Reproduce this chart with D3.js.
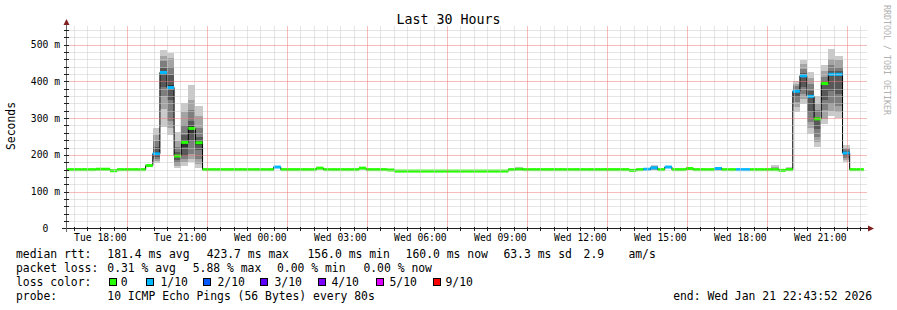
<!DOCTYPE html>
<html>
<head>
<meta charset="utf-8">
<script src="https://cdn.jsdelivr.net/npm/d3@7"></script>
<style>
    body { margin: 0; background: #fff; }
    svg text { font-family: "DejaVu Sans Mono", monospace; white-space: pre; }
</style>
</head>
<body>
<div id="chart"></div>
<script>
// time window of the graph
const startTime = new Date(2026, 0, 20, 16, 43, 52);
const endTime = new Date(2026, 0, 21, 22, 43, 52);
// consolidated 16 minute steps, first one starting here
const binStart = new Date(2026, 0, 20, 16, 30);
const binMinutes = 16;

// median rtt per step (ms)
const median = [
    160, 160, 160, 160, 160, 161, 161, 157, 160, 160,
    160, 160, 171, 203, 424, 383, 197, 234, 272, 233,
    160, 160, 160, 160, 160, 160, 160, 160, 160, 160,
    167, 160, 160, 160, 160, 160, 164, 160, 160, 160,
    160, 160, 164, 160, 160, 160, 159, 156, 156, 156,
    156, 156, 156, 156, 156, 156, 156, 156, 156, 156,
    156, 156, 156, 160, 161, 160, 160, 160, 160, 160,
    160, 160, 160, 160, 160, 160, 160, 160, 160, 160,
    158, 160, 161, 165, 160, 167, 160, 160, 163, 160,
    160, 160, 163, 160, 160, 160, 160, 160, 160, 160,
    160, 158, 160, 373, 415, 359, 298, 394, 419, 419,
    205, 160, 160, null
];

// lost pings (of 10) per step
const lossCount = [
    0, 0, 0, 0, 0, 0, 0, 0, 0, 0,
    0, 0, 0, 1, 1, 1, 0, 0, 0, 0,
    0, 0, 0, 0, 0, 0, 0, 0, 0, 0,
    1, 0, 0, 0, 0, 0, 0, 0, 0, 0,
    0, 0, 0, 0, 0, 0, 0, 0, 0, 0,
    0, 0, 0, 0, 0, 0, 0, 0, 0, 0,
    0, 0, 0, 0, 0, 0, 0, 0, 0, 0,
    0, 0, 0, 0, 0, 0, 0, 0, 0, 0,
    0, 0, 1, 1, 0, 1, 0, 0, 0, 0,
    0, 0, 1, 0, 0, 1, 1, 0, 0, 0,
    0, 0, 0, 1, 1, 1, 0, 0, 1, 1,
    1, 0, 0, 0
];

// steps that show smoke, with their sorted ping times (ms)
const smokeBins = [13, 14, 15, 16, 17, 18, 19, 64, 82, 83, 92, 100, 102,
    103, 104, 105, 106, 107, 108, 109, 110];
const smokePings = [
    [177, 183, 188, 194, 198, 208, 221, 239, 253, 274],
    [277, 325, 361, 384, 420, 426, 436, 454, 468, 484],
    [254, 274, 293, 348, 378, 389, 416, 438, 464, 478],
    [165, 171, 177, 187, 194, 200, 209, 221, 239, 262],
    [171, 182, 189, 198, 221, 240, 254, 280, 316, 341],
    [180, 189, 203, 239, 257, 278, 291, 321, 350, 391],
    [165, 176, 189, 212, 228, 238, 248, 274, 307, 334],
    [158, 159, 160, 160, 161, 161, 162, 163, 164, 166],
    [158, 159, 160, 160, 161, 162, 163, 164, 165, 165],
    [159, 160, 162, 163, 164, 166, 167, 168, 170, 172],
    [157, 158, 159, 160, 162, 164, 165, 166, 166, 167],
    [158, 159, 159, 160, 160, 160, 161, 163, 166, 172],
    [158, 159, 159, 160, 160, 160, 161, 162, 164, 167],
    [316, 330, 343, 357, 370, 376, 380, 386, 393, 402],
    [339, 352, 366, 384, 412, 418, 422, 434, 446, 457],
    [257, 274, 289, 316, 355, 363, 375, 393, 408, 424],
    [221, 235, 248, 271, 295, 301, 304, 321, 339, 361],
    [284, 298, 321, 348, 390, 397, 402, 413, 428, 443],
    [307, 319, 339, 375, 416, 422, 429, 443, 461, 488],
    [301, 316, 334, 366, 416, 422, 428, 440, 457, 470],
    [180, 186, 192, 198, 203, 207, 210, 215, 220, 226]
];

const yTicks = [0, 100, 200, 300, 400, 500];
const yTickLabels = ['0  ', '100 m', '200 m', '300 m', '400 m', '500 m'];

const lossLevels = [0, 1, 2, 3, 4, 5, 9];
const lossLabels = ['0', '1/10', '2/10', '3/10', '4/10', '5/10', '9/10'];
const lossColors = ['#26ff00', '#00b8ff', '#0059ff', '#5e00ff', '#7e00ff', '#dd00ff', '#ff0000'];

const rttStats = ['181.4 ms avg', '423.7 ms max', '156.0 ms min', '160.0 ms now', '63.3 ms sd', '2.9', 'am/s'];
const lossStats = ['0.31 % avg', '5.88 % max', '0.00 % min', '0.00 % now'];
const probeText = '10 ICMP Echo Pings (56 Bytes) every 80s';
const endText = 'end: Wed Jan 21 22:43:52 2026';

// ---- layout
const W = 897, H = 310;
const X0 = 66.5, X1 = 866.5, Y0 = 228.5;

const svg = d3.select('#chart').append('svg')
    .attr('width', W)
    .attr('height', H);

svg.append('rect').attr('width', W).attr('height', H).attr('fill', '#fff');

const x = d3.scaleTime().domain([startTime, endTime]).range([X0, X1]);
const y = d3.scaleLinear().domain([0, 550]).range([Y0, 26.1]);
const lossColor = d3.scaleThreshold().domain(lossLevels.slice(1)).range(lossColors);

svg.append('clipPath').attr('id', 'plot')
    .append('rect')
    .attr('x', X0).attr('y', 20)
    .attr('width', X1 - X0).attr('height', Y0 - 20);

const bins = median.map((v, k) => ({
    k: k,
    v: v,
    loss: lossCount[k],
    t0: d3.timeMinute.offset(binStart, k * binMinutes),
    t1: d3.timeMinute.offset(binStart, (k + 1) * binMinutes)
}));

const data = svg.append('g').attr('clip-path', 'url(#plot)');

// smoke: outer pair lightest, inner pair darkest
const smoke = [];
smokeBins.forEach((k, i) => {
    const p = smokePings[i];
    for (let j = 0; j < 5; j++) {
        smoke.push({ bin: bins[k], lo: p[j], hi: p[9 - j], layer: j });
    }
});
data.selectAll('rect.smoke').data(smoke).enter().append('rect')
    .classed('smoke', true)
    .attr('x', d => x(d.bin.t0))
    .attr('width', d => x(d.bin.t1) - x(d.bin.t0))
    .attr('y', d => y(d.hi))
    .attr('height', d => y(d.lo) - y(d.hi))
    .attr('fill', d => {
        const g = Math.floor(190 / 5 * (4 - d.layer)) + 50;
        return d3.rgb(g, g, g);
    })
    .attr('shape-rendering', 'crispEdges');

// median step line
const linePts = bins.map(b => ({ t: b.t0, v: b.v }));
linePts.push({ t: bins[bins.length - 1].t1, v: bins[bins.length - 1].v });
data.append('path')
    .attr('d', d3.line()
        .defined(d => d.v != null)
        .x(d => x(d.t))
        .y(d => y(d.v))
        .curve(d3.curveStepAfter)(linePts))
    .attr('fill', 'none')
    .attr('stroke', '#000')
    .attr('stroke-width', 1);

// median coloured by loss
data.selectAll('rect.median').data(bins.filter(b => b.v != null)).enter().append('rect')
    .classed('median', true)
    .attr('x', d => x(d.t0))
    .attr('width', d => x(d.t1) - x(d.t0))
    .attr('y', d => y(d.v) - 1.5)
    .attr('height', 3)
    .attr('fill', d => lossColor(d.loss));

// ---- grid (drawn over the data like rrdtool)
const grid = svg.append('g');
// major verticals every 3 hours starting at 19:00
const majorX = d3.timeHour.range(startTime, endTime)
    .filter(d => (d.getHours() + 24 - 19) % 3 === 0);
const majorMs = new Set(majorX.map(d => d.getTime()));
const halfHours = d3.timeMinute.every(30).range(startTime, endTime);
const minorX = halfHours.filter(d => !majorMs.has(d.getTime()));
const minorY = d3.range(20, 550, 20).filter(v => v % 100 !== 0);
const majorY = yTicks.filter(v => v > 0);
const minorCol = '#cacaca';
const majorCol = '#ec7878';
const px = v => Math.round(v) + 0.5;

grid.selectAll('line.minx').data(minorX).enter().append('line')
    .attr('class', 'minx')
    .attr('x1', d => px(x(d))).attr('x2', d => px(x(d)))
    .attr('y1', 26.5).attr('y2', 228)
    .attr('stroke', minorCol).attr('stroke-dasharray', '1 1');
grid.selectAll('line.miny').data(minorY).enter().append('line')
    .attr('class', 'miny')
    .attr('x1', 66.5).attr('x2', 867)
    .attr('y1', d => px(y(d))).attr('y2', d => px(y(d)))
    .attr('stroke', minorCol).attr('stroke-dasharray', '1 1');
grid.selectAll('line.majx').data(majorX).enter().append('line')
    .attr('class', 'majx')
    .attr('x1', d => px(x(d))).attr('x2', d => px(x(d)))
    .attr('y1', 26.5).attr('y2', 228)
    .attr('stroke', majorCol).attr('stroke-dasharray', '1 1');
grid.selectAll('line.majy').data(majorY).enter().append('line')
    .attr('class', 'majy')
    .attr('x1', 66.5).attr('x2', 867)
    .attr('y1', d => px(y(d))).attr('y2', d => px(y(d)))
    .attr('stroke', majorCol).attr('stroke-dasharray', '1 1');

// ---- axes
const axis = svg.append('g').attr('stroke', '#1f1f1f').attr('shape-rendering', 'crispEdges');
axis.append('line').attr('x1', 62).attr('x2', 869).attr('y1', 228.5).attr('y2', 228.5);
axis.append('line').attr('x1', 66.5).attr('x2', 66.5).attr('y1', 232).attr('y2', 22)
    .attr('stroke', '#666');
axis.selectAll('line.tx').data(halfHours).enter().append('line')
    .attr('x1', d => px(x(d))).attr('x2', d => px(x(d)))
    .attr('y1', 227).attr('y2', 231);
axis.selectAll('line.ty').data(minorY.concat(majorY)).enter().append('line')
    .attr('x1', 64).attr('x2', 69)
    .attr('y1', d => px(y(d))).attr('y2', d => px(y(d)));

svg.append('path').attr('d', 'M63.5,25 L69.5,25 L66.5,19 Z').attr('fill', '#801f1f');
svg.append('path').attr('d', 'M868,225.5 L868,231.5 L874,228.5 Z').attr('fill', '#801f1f');

// tick labels
svg.selectAll('text.ylab').data(yTicks).enter().append('text')
    .attr('x', 60).attr('y', d => y(d) + 3.5)
    .attr('text-anchor', 'end')
    .attr('font-size', '9.7px')
    .text((d, i) => yTickLabels[i]);

const labelTimes = d3.timeHour.every(3).range(startTime, endTime);
const fmt = d3.timeFormat('%a %H:%M');
svg.selectAll('text.xlab').data(labelTimes).enter().append('text')
    .attr('x', d => x(d)).attr('y', 241)
    .attr('text-anchor', 'middle')
    .attr('font-size', '9.7px')
    .text(d => fmt(d));

// titles
svg.append('text').attr('x', 448.5).attr('y', 24).attr('text-anchor', 'middle')
    .attr('font-size', '13.3px').text('Last 30 Hours');
svg.append('text').attr('transform', 'translate(11,126) rotate(-90)')
    .attr('text-anchor', 'middle').attr('dominant-baseline', 'central')
    .attr('font-size', '11.4px').text('Seconds');
svg.append('text').attr('transform', 'translate(887,5) rotate(90)')
    .attr('dominant-baseline', 'central')
    .attr('font-size', '8.3px').attr('fill', '#b0b0b0')
    .text('RRDTOOL / TOBI OETIKER');

// ---- legend
const leg = svg.append('g').attr('font-size', '11.4px');
const rows = [257.5, 271.7, 285.7, 300];
leg.append('text').attr('x', 16).attr('y', rows[0]).text('median rtt:');
leg.append('text').attr('x', 16).attr('y', rows[1]).text('packet loss:');
leg.append('text').attr('x', 16).attr('y', rows[2]).text('loss color:');
leg.append('text').attr('x', 16).attr('y', rows[3]).text('probe:');

const rttX = [107.3, 206.7, 307.5, 405.6, 503.4, 583.6, 628.4];
leg.selectAll('text.rtt').data(rttStats).enter().append('text')
    .attr('x', (d, i) => rttX[i]).attr('y', rows[0]).text(d => d);
const lossX = [107.3, 192.7, 277, 363.4];
leg.selectAll('text.loss').data(lossStats).enter().append('text')
    .attr('x', (d, i) => lossX[i]).attr('y', rows[1]).text(d => d);

const boxX = [108.7, 146, 203.3, 260, 318.3, 376, 432.5];
const boxLabelX = [120.7, 160.5, 217.5, 274.5, 331.5, 389.5, 445.5];
leg.selectAll('rect.lc').data(lossColors).enter().append('rect')
    .attr('x', (d, i) => boxX[i] + 0.5).attr('y', 278.5)
    .attr('width', 7).attr('height', 7)
    .attr('fill', d => d).attr('stroke', '#000').attr('stroke-width', 1)
    .attr('shape-rendering', 'crispEdges');
leg.selectAll('text.lc').data(lossLabels).enter().append('text')
    .attr('x', (d, i) => boxLabelX[i]).attr('y', rows[2]).text(d => d);

leg.append('text').attr('x', 107.3).attr('y', rows[3]).text(probeText);
leg.append('text').attr('x', 872).attr('y', rows[3]).attr('text-anchor', 'end').text(endText);
</script>
</body>
</html>
